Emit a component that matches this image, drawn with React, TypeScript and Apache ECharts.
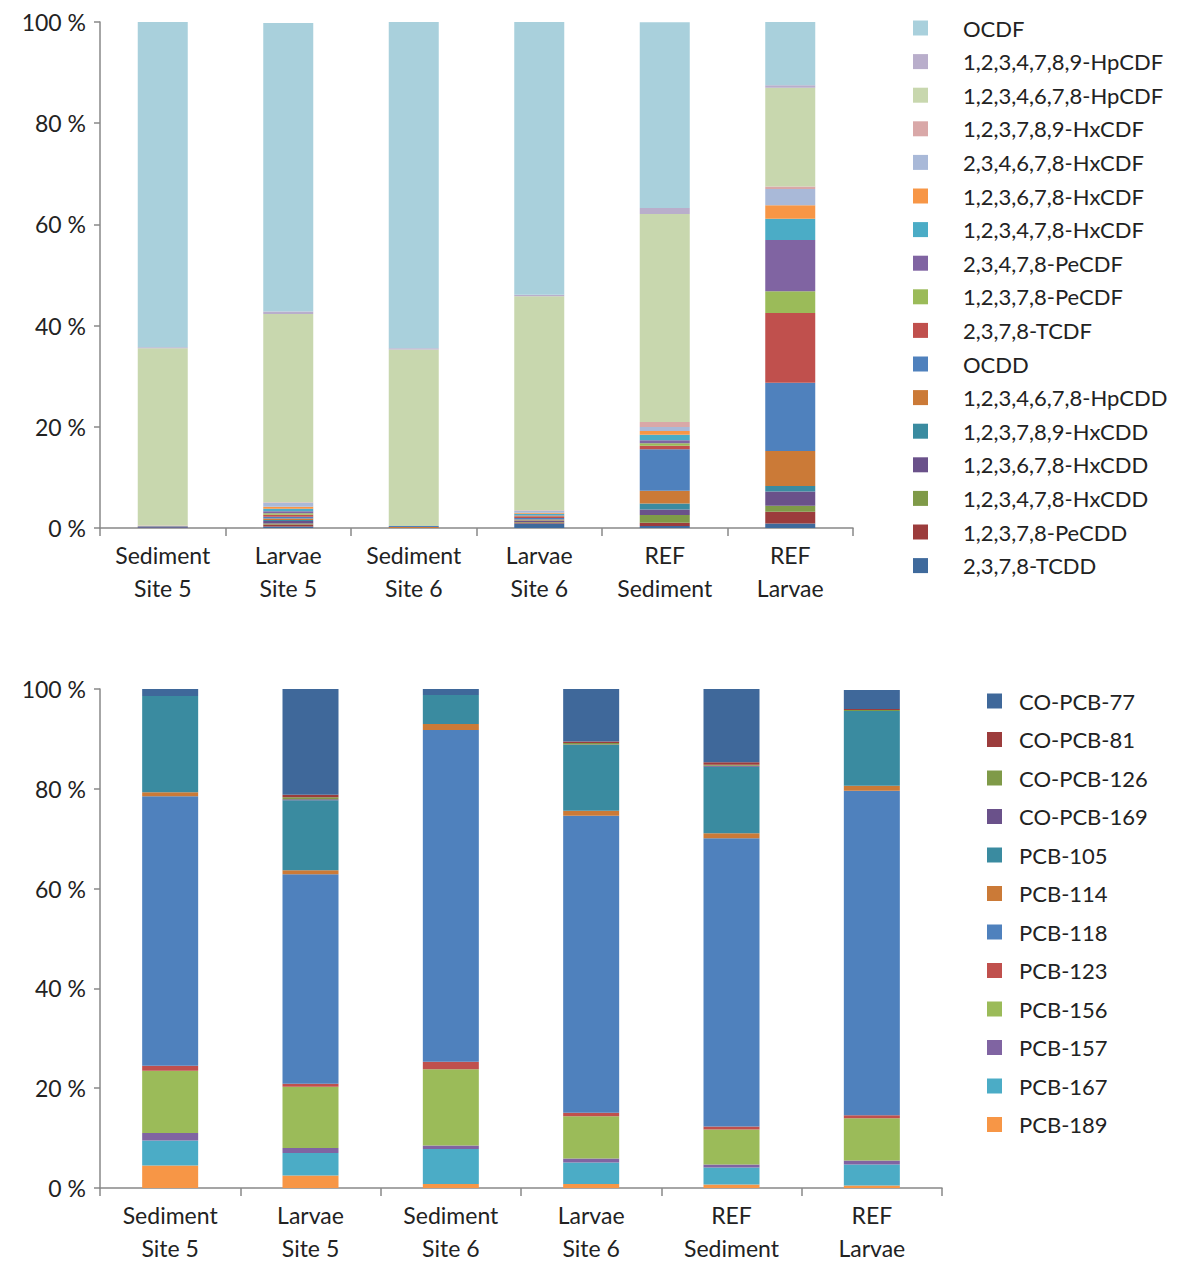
import React, { useEffect, useRef } from "react";
import * as echarts from "echarts";

const cats = ["Sediment\nSite 5", "Larvae\nSite 5", "Sediment\nSite 6", "Larvae\nSite 6", "REF\nSediment", "REF\nLarvae"];

// top chart, stack order bottom -> top
const dioxinNames = ["2,3,7,8-TCDD", "1,2,3,7,8-PeCDD", "1,2,3,4,7,8-HxCDD", "1,2,3,6,7,8-HxCDD", "1,2,3,7,8,9-HxCDD", "1,2,3,4,6,7,8-HpCDD", "OCDD", "2,3,7,8-TCDF", "1,2,3,7,8-PeCDF", "2,3,4,7,8-PeCDF", "1,2,3,4,7,8-HxCDF", "1,2,3,6,7,8-HxCDF", "2,3,4,6,7,8-HxCDF", "1,2,3,7,8,9-HxCDF", "1,2,3,4,6,7,8-HpCDF", "1,2,3,4,7,8,9-HpCDF", "OCDF"];
const dioxinColors = ["#3f6a9c", "#9c3c3c", "#7f9a48", "#6a518a", "#3a8ba0", "#cb7a37", "#4f81bd", "#c0504d", "#9bbb59", "#8064a2", "#4bacc6", "#f79646", "#a9b9d8", "#d9a8a8", "#c8d7ae", "#b9aecb", "#a9d0dc"];
const dioxinValues = [
  [0.1, 0.3, 0.0, 0.9, 0.4, 0.9],
  [0.0, 0.4, 0.0, 0.2, 0.65, 2.3],
  [0.0, 0.2, 0.0, 0.1, 1.5, 1.2],
  [0.1, 0.5, 0.0, 0.2, 1.1, 2.8],
  [0.0, 0.2, 0.0, 0.1, 1.2, 1.1],
  [0.1, 0.3, 0.2, 0.2, 2.5, 6.9],
  [0.1, 0.3, 0.2, 0.3, 8.2, 13.5],
  [0.0, 0.4, 0.0, 0.3, 0.7, 13.8],
  [0.0, 0.3, 0.0, 0.1, 0.5, 4.3],
  [0.0, 0.4, 0.0, 0.1, 0.6, 10.1],
  [0.0, 0.5, 0.0, 0.3, 1.1, 4.2],
  [0.0, 0.4, 0.0, 0.2, 0.7, 2.7],
  [0.0, 0.8, 0.0, 0.4, 0.8, 3.2],
  [0.1, 0.1, 0.0, 0.1, 1.0, 0.5],
  [35.0, 37.2, 34.9, 42.3, 41.1, 19.5],
  [0.2, 0.5, 0.2, 0.3, 1.2, 0.5],
  [64.3, 57.0, 64.5, 54.6, 36.7, 12.5],
];

const pcbNames = ["PCB-189", "PCB-167", "PCB-157", "PCB-156", "PCB-123", "PCB-118", "PCB-114", "PCB-105", "CO-PCB-169", "CO-PCB-126", "CO-PCB-81", "CO-PCB-77"];
const pcbColors = ["#f79646", "#4bacc6", "#8064a2", "#9bbb59", "#c0504d", "#4f81bd", "#cb7a37", "#3a8ba0", "#6a518a", "#7f9a48", "#9c3c3c", "#3f689a"];
const pcbValues = [
  [4.5, 2.5, 0.8, 0.8, 0.7, 0.5],
  [5.0, 4.5, 7.0, 4.3, 3.4, 4.2],
  [1.5, 1.0, 0.7, 0.8, 0.6, 0.8],
  [12.5, 12.3, 15.3, 8.5, 7.0, 8.5],
  [1.0, 0.6, 1.5, 0.7, 0.6, 0.6],
  [54.0, 42.0, 66.5, 59.5, 57.8, 65.0],
  [0.8, 0.8, 1.2, 1.0, 1.0, 1.0],
  [19.3, 14.0, 5.8, 13.2, 13.3, 15.0],
  [0.0, 0.2, 0.0, 0.1, 0.2, 0.0],
  [0.0, 0.4, 0.0, 0.3, 0.2, 0.2],
  [0.0, 0.5, 0.0, 0.3, 0.5, 0.2],
  [1.4, 21.2, 1.2, 10.5, 14.7, 3.8],
];

const yTicks = ["0 %", "20 %", "40 %", "60 %", "80 %", "100 %"];
const FONT = "Lato";

export default function App() {
  const ref = useRef<HTMLDivElement>(null);
  useEffect(() => {
    const chart = echarts.init(ref.current!, null, { renderer: "svg" });
    const axisLine = { show: true, lineStyle: { color: "#888", width: 1.5 } };
    const xAxis = (gi: number) => ({
      type: "category", gridIndex: gi, data: cats,
      axisLine, axisTick: { show: true, length: 8, lineStyle: { color: "#888", width: 1.5 } },
      axisLabel: { color: "#222", fontSize: 23, fontFamily: FONT, lineHeight: 33, margin: 10 },
    });
    const yAxis = (gi: number) => ({
      type: "value", gridIndex: gi, min: 0, max: 100, interval: 20,
      axisLine, splitLine: { show: false },
      axisTick: { show: true, length: 6, lineStyle: { color: "#888", width: 1.5 } },
      axisLabel: { color: "#222", fontSize: 23, fontFamily: FONT, margin: 14, formatter: (v: number) => yTicks[v / 20] },
    });
    const series: any[] = [];
    dioxinNames.forEach((n, i) => series.push({
      name: n, type: "bar", stack: "a", xAxisIndex: 0, yAxisIndex: 0, barWidth: 50,
      itemStyle: { color: dioxinColors[i] }, data: dioxinValues[i],
    }));
    pcbNames.forEach((n, i) => series.push({
      name: n, type: "bar", stack: "b", xAxisIndex: 1, yAxisIndex: 1, barWidth: 56,
      itemStyle: { color: pcbColors[i] }, data: pcbValues[i],
    }));
    chart.setOption({
      animation: false,
      textStyle: { fontFamily: FONT },
      grid: [
        { left: 92, right: 1172 - 845, top: 14, height: 506 },
        { left: 92, right: 1172 - 934, top: 681, height: 507 },
      ],
      xAxis: [xAxis(0), xAxis(1)],
      yAxis: [yAxis(0), yAxis(1)],
      legend: [
        {
          data: [...dioxinNames].reverse(), orient: "vertical", left: 900, top: 4,
          itemWidth: 15, itemHeight: 15, itemGap: 11.6, icon: "rect",
          textStyle: { fontSize: 22, color: "#222", fontFamily: FONT, padding: [0, 0, 0, 30] },
        },
        {
          data: [...pcbNames].reverse(), orient: "vertical", left: 974, top: 677,
          itemWidth: 15, itemHeight: 15, itemGap: 16.5, icon: "rect",
          textStyle: { fontSize: 22, color: "#222", fontFamily: FONT, padding: [0, 0, 0, 12] },
        },
      ],
      series,
    });
    return () => chart.dispose();
  }, []);
  return <div ref={ref} style={{ width: 1172, height: 1256 }} />;
}
